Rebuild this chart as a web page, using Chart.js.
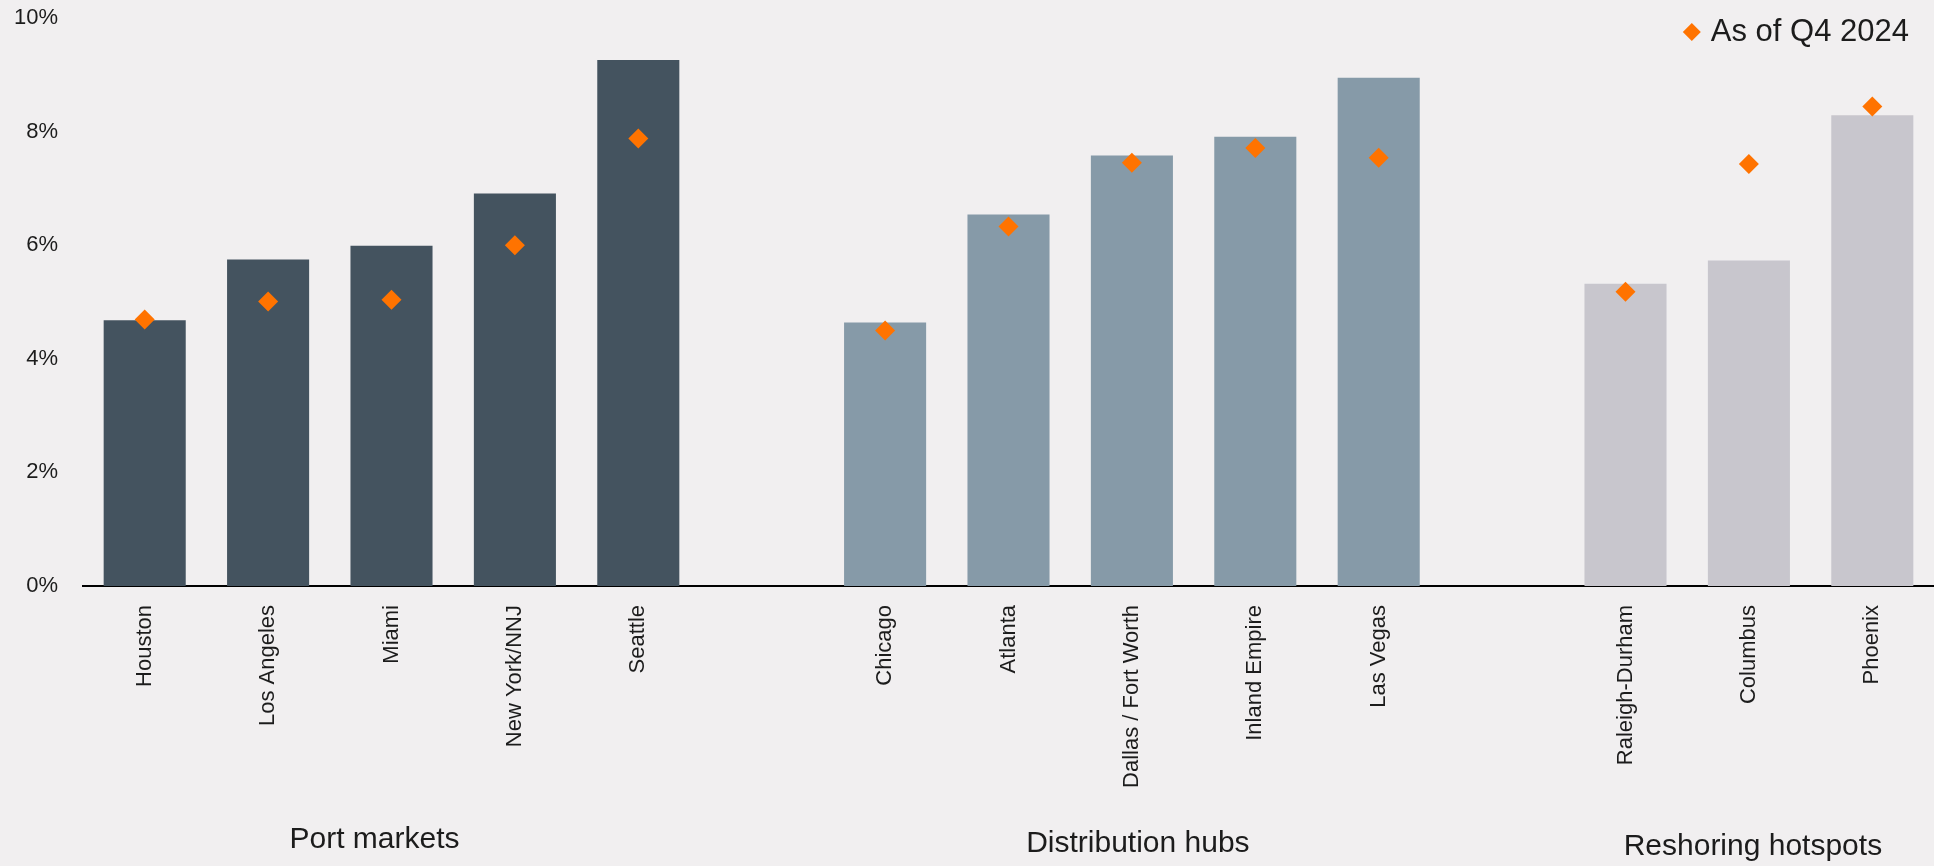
<!DOCTYPE html>
<html>
<head>
<meta charset="utf-8">
<title>Industrial markets</title>
<script src="https://cdn.jsdelivr.net/npm/chart.js@4/dist/chart.umd.min.js"></script>
<style>
  html, body { margin: 0; padding: 0; background: #F1EFF0; }
  canvas { display: block; }
</style>
</head>
<body>
<canvas id="chart" width="1934" height="866"></canvas>
<script>
// Market groups, bar values (%) and the Q4 2024 reading for each market
const portMarkets = ['Houston', 'Los Angeles', 'Miami', 'New York/NNJ', 'Seattle'];
const portBars    = [4.68, 5.75, 5.99, 6.91, 9.26];
const portQ4      = [4.69, 5.01, 5.04, 6.00, 7.88];

const distributionHubs = ['Chicago', 'Atlanta', 'Dallas / Fort Worth', 'Inland Empire', 'Las Vegas'];
const distributionBars = [4.64, 6.54, 7.58, 7.91, 8.95];
const distributionQ4   = [4.50, 6.33, 7.45, 7.71, 7.54];

const reshoringHotspots = ['Raleigh-Durham', 'Columbus', 'Phoenix'];
const reshoringBars     = [5.32, 5.73, 8.29];
const reshoringQ4       = [5.18, 7.43, 8.44];

const groupNames = ['Port markets', 'Distribution hubs', 'Reshoring hotspots'];
const groupColors = ['#44535F', '#869AA8', '#C8C6CD'];
const yTicks = [0, 2, 4, 6, 8, 10];
const seriesLabel = 'As of Q4 2024';

// Build one category axis with an empty slot between groups
const groups = [
  { names: portMarkets, bars: portBars, q4: portQ4 },
  { names: distributionHubs, bars: distributionBars, q4: distributionQ4 },
  { names: reshoringHotspots, bars: reshoringBars, q4: reshoringQ4 }
];
const labels = [], barData = [], q4Data = [], barColors = [], groupMiddles = [];
groups.forEach((g, gi) => {
  if (gi > 0) { labels.push(''); barData.push(null); q4Data.push(null); barColors.push('rgba(0,0,0,0)'); }
  groupMiddles.push(labels.length + (g.names.length - 1) / 2);
  g.names.forEach((n, i) => {
    labels.push(n);
    barData.push(g.bars[i]);
    q4Data.push(g.q4[i]);
    barColors.push(groupColors[gi]);
  });
});

const FONT = "'Liberation Sans', Arial, sans-serif";
const TEXT = '#1c1c1c';

// Group captions under the rotated market names (small hand-tuned nudges)
const groupCaptions = {
  id: 'groupCaptions',
  afterDraw(chart) {
    const { ctx } = chart;
    const x = chart.scales.x;
    const nudgeX = [-17, 6, 4];
    const baseY = [840, 844, 847];
    ctx.save();
    ctx.font = '30px ' + FONT;
    ctx.fillStyle = TEXT;
    ctx.textAlign = 'center';
    ctx.textBaseline = 'middle';
    groupNames.forEach((name, i) => {
      ctx.fillText(name, x.getPixelForValue(groupMiddles[i]) + nudgeX[i], baseY[i]);
    });
    ctx.restore();
  }
};

// Legend for the Q4 2024 markers in the top-right corner
const cornerLegend = {
  id: 'cornerLegend',
  afterDraw(chart) {
    const { ctx, chartArea } = chart;
    const ds = chart.data.datasets[1];
    ctx.save();
    ctx.font = '31px ' + FONT;
    ctx.fillStyle = TEXT;
    ctx.textAlign = 'right';
    ctx.textBaseline = 'middle';
    const right = chartArea.right - 25;
    const y = 32;
    ctx.fillText(ds.label, right, y);
    const w = ctx.measureText(ds.label).width;
    const cx = right - w - 19, r = 9;
    ctx.fillStyle = ds.pointBackgroundColor;
    ctx.beginPath();
    ctx.moveTo(cx - r, y); ctx.lineTo(cx, y - r); ctx.lineTo(cx + r, y); ctx.lineTo(cx, y + r);
    ctx.closePath();
    ctx.fill();
    ctx.restore();
  }
};

new Chart(document.getElementById('chart'), {
  data: {
    labels: labels,
    datasets: [
      {
        type: 'bar',
        label: 'Market',
        data: barData,
        backgroundColor: barColors,
        borderWidth: 0,
        categoryPercentage: 1,
        barPercentage: 0.665,
        order: 2
      },
      {
        type: 'line',
        label: seriesLabel,
        data: q4Data,
        showLine: false,
        pointStyle: 'rectRot',
        pointRadius: 10,
        pointBorderWidth: 0,
        pointBackgroundColor: '#FF7300',
        pointBorderColor: '#FF7300',
        clip: false,
        order: 1
      }
    ]
  },
  options: {
    responsive: false,
    devicePixelRatio: 1,
    animation: false,
    events: [],
    layout: { autoPadding: false, padding: { top: 18, right: 0, bottom: 0, left: 0 } },
    plugins: {
      legend: { display: false },
      tooltip: { enabled: false }
    },
    scales: {
      x: {
        grid: { display: false, drawTicks: false },
        border: { display: true, color: '#000000', width: 2 },
        ticks: {
          autoSkip: false,
          maxRotation: 90,
          minRotation: 90,
          padding: 19,
          color: TEXT,
          font: { family: FONT, size: 22 }
        },
        afterFit(scale) {
          scale.height = 280;
          scale.paddingLeft = 0;
          scale.paddingRight = 0;
        }
      },
      y: {
        min: 0,
        max: 10,
        afterBuildTicks(scale) { scale.ticks = yTicks.map(v => ({ value: v })); },
        grid: { display: false, drawTicks: false },
        border: { display: false },
        ticks: {
          padding: 25,
          color: TEXT,
          font: { family: FONT, size: 22 },
          callback: v => v + '%'
        },
        afterFit(scale) {
          scale.width = 83;
          scale.paddingTop = 0;
          scale.paddingBottom = 0;
        }
      }
    }
  },
  plugins: [groupCaptions, cornerLegend]
});
</script>
</body>
</html>
